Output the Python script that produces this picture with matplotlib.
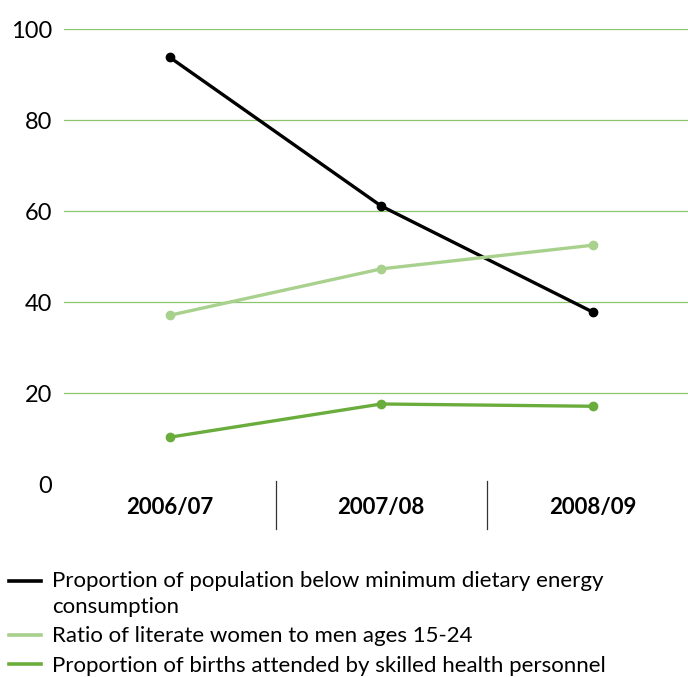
import matplotlib
matplotlib.use('Agg')
import matplotlib.pyplot as plt
from matplotlib.lines import Line2D

plt.rcParams['font.family'] = ['Lato', 'DejaVu Sans']

periodos = ['2006/07', '2007/08', '2008/09']
subnutricao = [93.8, 61.1, 37.8]
alfabetizacao = [37.1, 47.3, 52.5]
partos_assistidos = [10.3, 17.6, 17.1]

rotulos = [
    'Proportion of population below minimum dietary energy\nconsumption',
    'Ratio of literate women to men ages 15-24',
    'Proportion of births attended by skilled health personnel',
]
cores = ['#000000', '#a9d18e', '#6aad3d']

fig = plt.figure(figsize=(6.88, 6.77), dpi=100)
ax = fig.add_axes([0.093, 0.285, 0.907, 0.672])

x = range(len(periodos))
for serie, cor in zip([subnutricao, alfabetizacao, partos_assistidos], cores):
    ax.plot(x, serie, color=cor, linewidth=2.4, marker='o', markersize=6,
            solid_capstyle='round')

ax.set_xlim(-0.5, 2.45)
ax.set_ylim(0, 100)
ax.set_yticks([0, 20, 40, 60, 80, 100])
for v in [20, 40, 60, 80, 100]:
    ax.axhline(v, color='#8dc56a', linewidth=0.9, zorder=0)

ax.set_xticks(list(x))
ax.set_xticklabels(periodos, fontsize=16, fontweight='bold')
ax.tick_params(axis='x', length=0, pad=9)
ax.tick_params(axis='y', length=0, labelsize=17, pad=8.5)
for s in ax.spines.values():
    s.set_visible(False)

# separadores entre categorias
for sep in [0.5, 1.5]:
    ax.plot([sep, sep], [0.6, -9.8], color='#333333', linewidth=0.9, clip_on=False)

marcas = [Line2D([0], [0], color=c, linewidth=2.6) for c in cores]
leg = fig.legend(handles=marcas, labels=rotulos, loc='upper left',
                 bbox_to_anchor=(0.013, 0.157), frameon=False, fontsize=16,
                 handlelength=1.45, handletextpad=0.5, labelspacing=0.42,
                 borderaxespad=0, borderpad=0)
for t in leg.get_texts():
    t.set_linespacing(1.4)

# traço da primeira entrada alinhado com a primeira linha do texto
h0 = leg.legend_handles[0]
h0.set_ydata([y + 9.4 for y in h0.get_ydata()])

plt.savefig('out.png', dpi=100)
